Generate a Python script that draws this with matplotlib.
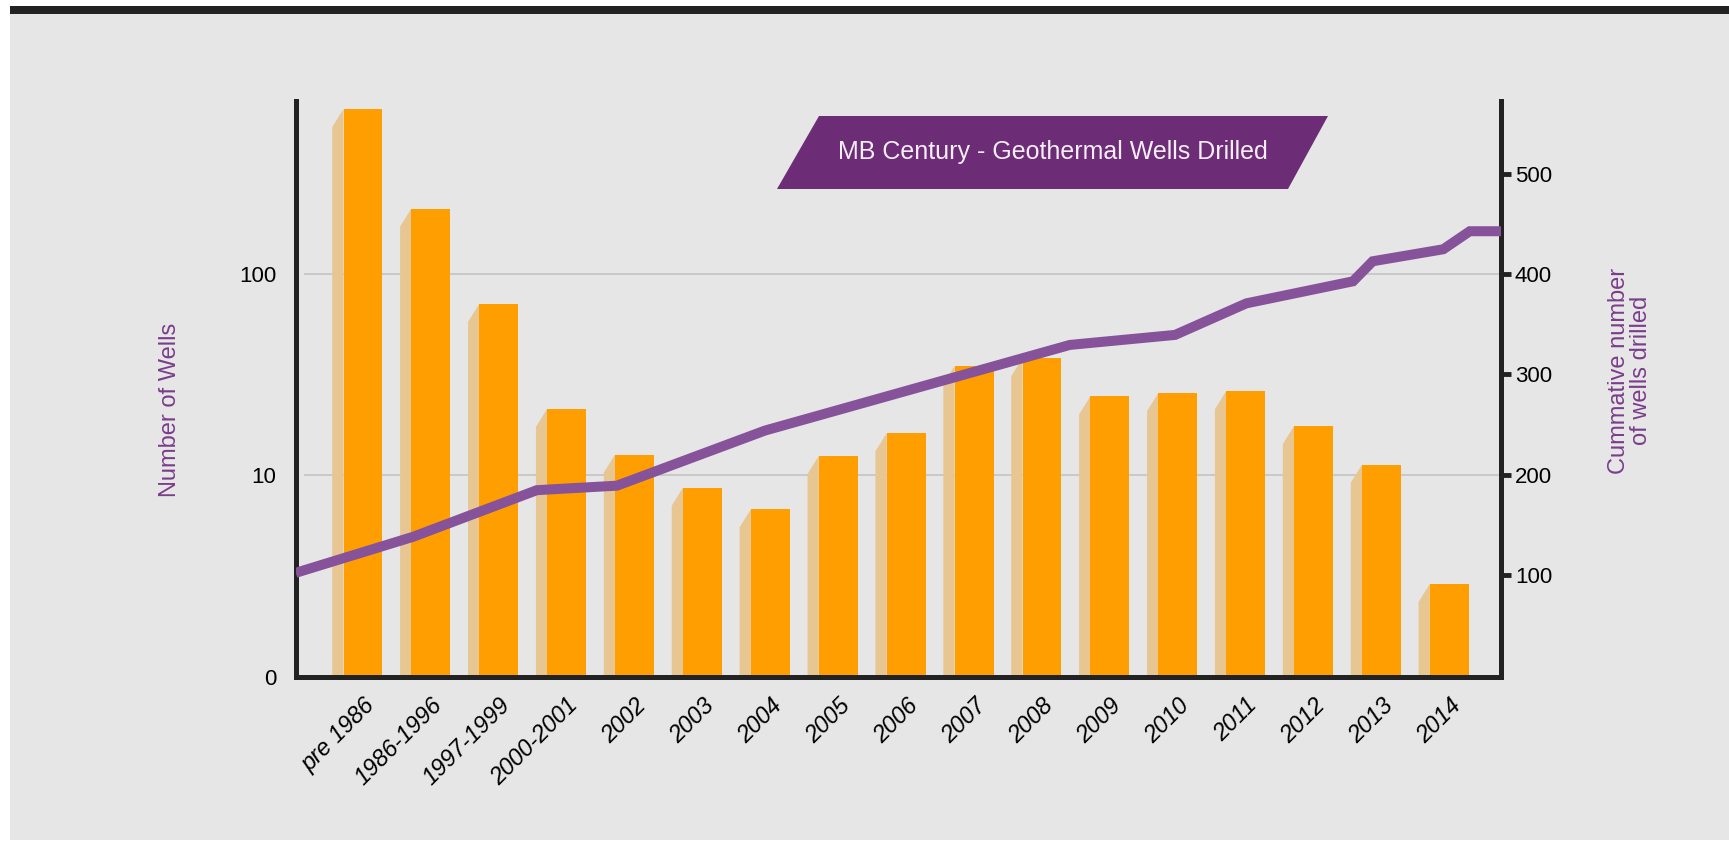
import matplotlib.pyplot as plt
from matplotlib.patches import Rectangle, Polygon
from matplotlib.ticker import NullLocator

plt.rcParams['font.family'] = ['Liberation Sans', 'DejaVu Sans']

# data
categories = ['pre 1986', '1986-1996', '1997-1999', '2000-2001', '2002', '2003', '2004',
              '2005', '2006', '2007', '2008', '2009', '2010', '2011', '2012', '2013', '2014']
wells = [658, 211, 71, 21.4, 12.7, 8.7, 6.8, 12.5, 16.2, 34.9, 38.2, 24.7, 25.6, 26.2, 17.6, 11.3, 2.9]

# cumulative curve, x in category positions
cumulative_x = [-0.99, 0.74, 2.56, 3.74, 5.92, 10.41, 11.96, 13.01, 14.58, 14.87, 15.91, 16.30, 16.76]
cumulative_y = [102, 138, 184.5, 189, 244, 329.5, 339.5, 371, 393, 413, 425, 443, 443]

left_ticks = [1, 10, 100]
left_tick_labels = ['0', '10', '100']
right_ticks = [100, 200, 300, 400, 500]

title = 'MB Century - Geothermal Wells Drilled'
left_label = 'Number of Wells'
right_label = 'Cummative number\nof wells drilled'

W, H = 1729, 842
orange = '#ff9e00'
shadow = '#e8c691'
purple_line = '#86529a'
purple_box = '#6c2d76'
purple_text = '#7a3d8a'
dark = '#222222'

fig = plt.figure(figsize=(W / 100, H / 100), dpi=100, facecolor='white')

# grey panel and black rule on top
fig.patches.append(Rectangle((10 / W, 2 / H), 1, (H - 16) / H, transform=fig.transFigure,
                             facecolor='#e6e6e6', edgecolor='none', zorder=-10))
fig.patches.append(Rectangle((10 / W, (H - 14.3) / H), 1, 8.8 / H, transform=fig.transFigure,
                             facecolor=dark, edgecolor='none', zorder=-9))

ax = fig.add_axes([295.5 / W, (H - 677) / H, (1501 - 295.5) / W, (677 - 101) / H])
ax.set_facecolor('none')
ax.set_yscale('log')
ax.set_ylim(1, 721)
ax.set_xlim(-0.994, 16.76)

# horizontal grid lines
for t in [10, 100]:
    ax.axhline(t, xmin=0.008, color='#c6c6c6', lw=1.3, zorder=0.5)

# bars with a light 3d side face
bar_width = 0.574
face = 0.166
drop = 0.814
x = list(range(len(categories)))
for i, v in zip(x, wells):
    xl = i - bar_width / 2
    ax.fill([xl - face, xl - face, xl, xl], [1, v * drop, v, 1], color=shadow, lw=0, zorder=1)
ax.bar(x, [v - 1 for v in wells], bottom=1, width=bar_width, color=orange, zorder=2)

ax.set_yticks(left_ticks)
ax.set_yticklabels(left_tick_labels)
ax.yaxis.set_minor_locator(NullLocator())
ax.tick_params(axis='y', length=0, pad=14, labelsize=16)
ax.set_xticks(x)
ax.set_xticklabels(categories, rotation=45, ha='right', va='top', rotation_mode='anchor',
                   fontsize=17, style='italic')
ax.tick_params(axis='x', length=0, pad=12)

ax.spines['top'].set_visible(False)
ax.spines['right'].set_visible(False)
for s in ['left', 'bottom']:
    ax.spines[s].set_linewidth(3.6)
    ax.spines[s].set_color(dark)
    ax.spines[s].set_capstyle('projecting')

# cumulative line on the right axis
ax2 = ax.twinx()
ax2.set_ylim(-2, 573)
ax2.plot(cumulative_x, cumulative_y, color=purple_line, lw=7.2, solid_joinstyle='miter',
         solid_capstyle='butt', zorder=3)
ax2.set_yticks(right_ticks)
ax2.tick_params(axis='y', length=7, width=3.5, color=dark, pad=3, labelsize=16)
for s in ['top', 'left', 'bottom']:
    ax2.spines[s].set_visible(False)
ax2.spines['right'].set_linewidth(3.6)
ax2.spines['right'].set_color(dark)
ax2.spines['right'].set_capstyle('projecting')

# title banner
corners = [(819, 116), (1328, 116), (1288, 189), (777, 189)]
fig.patches.append(Polygon([(cx / W, 1 - cy / H) for cx, cy in corners], closed=True,
                           transform=fig.transFigure, facecolor=purple_box,
                           edgecolor='none', zorder=5))
fig.text(1053 / W, 1 - 152.5 / H, title, color='#f6eef7', fontsize=18,
         ha='center', va='center', zorder=6)

# axis titles
fig.text(170 / W, 1 - 410 / H, left_label, color=purple_text, fontsize=17,
         rotation=90, ha='center', va='center')
fig.text(1630 / W, 1 - 370.5 / H, right_label, color=purple_text, fontsize=17,
         rotation=90, ha='center', va='center', multialignment='center', linespacing=1.0)

fig.savefig('out.png', dpi=100, facecolor=fig.get_facecolor())
